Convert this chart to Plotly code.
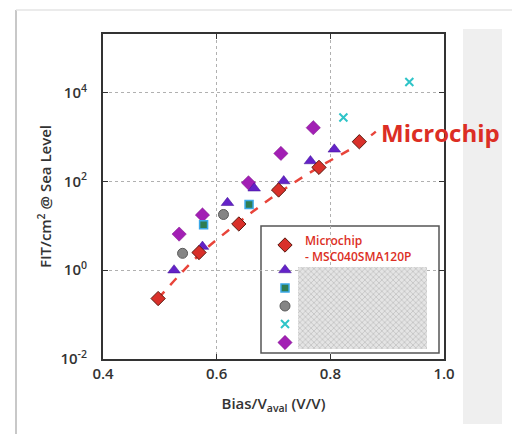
import plotly.graph_objects as go

W, H = 512, 434

# ---- data ----
mc_x = [0.497, 0.569, 0.639, 0.709, 0.780, 0.851]
mc_y = [0.23, 2.5, 11, 64, 207, 783]
fit_x = [0.497, 0.569, 0.639, 0.709, 0.780, 0.851, 0.880]
fit_y = [0.23, 2.2, 12, 55, 210, 700, 1320]
tri_x = [0.525, 0.575, 0.619, 0.666, 0.718, 0.765, 0.807]
tri_y = [1.0, 3.4, 33, 70, 102, 288, 528]
sq_x = [0.577, 0.657]
sq_y = [10.5, 30]
circ_x = [0.540, 0.612]
circ_y = [2.4, 18]
cross_x = [0.823, 0.939]
cross_y = [2750, 17400]
mag_x = [0.534, 0.575, 0.656, 0.713, 0.770]
mag_y = [6.5, 17.5, 93, 427, 1620]

x_ticks = [0.4, 0.6, 0.8, 1.0]
x_ticktext = ["0.4", "0.6", "0.8", "1.0"]
y_ticks = [0.01, 1, 100, 10000]
y_ticktext = ["10<sup>-2</sup>", "10<sup>0</sup>", "10<sup>2</sup>", "10<sup>4</sup>"]

RED = "#dc2e24"
FONT = "Open Sans"

# plot frame in pixels
L, R, T, B = 103, 444, 34, 359

M_RED = dict(symbol="diamond", size=11, color="#d9302a", line=dict(color="#5a1a10", width=1))
M_TRI = dict(symbol="triangle-up", size=11, color="#6422c8", line=dict(color="#3e1090", width=0.5))
M_SQ = dict(symbol="square", size=8, color="#2e7d52", line=dict(color="#3aa8e8", width=1.5))
M_CIRC = dict(symbol="circle", size=10, color="#858585", line=dict(color="#5a5a5a", width=1))
M_X = dict(symbol="x-thin", size=8, color="#2ec4c8", line=dict(color="#2ec4c8", width=2))
M_MAG = dict(symbol="diamond", size=11, color="#a21fb4", line=dict(color="#7a1088", width=0.5))

fig = go.Figure()

fig.add_trace(go.Scatter(x=fit_x, y=fit_y, mode="lines",
                         line=dict(color="#e8443a", width=2.5, dash="dash", shape="spline"),
                         showlegend=False))
fig.add_trace(go.Scatter(x=mag_x, y=mag_y, mode="markers", marker=M_MAG, showlegend=False))
fig.add_trace(go.Scatter(x=sq_x, y=sq_y, mode="markers", marker=M_SQ, showlegend=False))
fig.add_trace(go.Scatter(x=circ_x, y=circ_y, mode="markers", marker=M_CIRC, showlegend=False))
fig.add_trace(go.Scatter(x=tri_x, y=tri_y, mode="markers", marker=M_TRI, showlegend=False))
fig.add_trace(go.Scatter(x=cross_x, y=cross_y, mode="markers", marker=M_X, showlegend=False))
fig.add_trace(go.Scatter(x=mc_x, y=mc_y, mode="markers", marker=M_RED, showlegend=False))

# ---- manual legend on a pixel overlay axis ----
leg_items = [M_RED, M_TRI, M_SQ, M_CIRC, M_X, M_MAG]
leg_y = [245, 270, 288, 306, 324, 342.5]
# hatched placeholder
fig.add_trace(go.Scatter(x=[298, 427, 427, 298, 298], y=[267, 267, 349, 349, 267],
                         mode="lines", fill="toself", line=dict(width=0),
                         fillcolor="#d8d8d8",
                         fillpattern=dict(shape="x", fgcolor="#a8a8a8", bgcolor="#e4e4e4",
                                          size=4, solidity=0.4),
                         xaxis="x2", yaxis="y2", showlegend=False, hoverinfo="skip"))
for m, yy in zip(leg_items, leg_y):
    fig.add_trace(go.Scatter(x=[285], y=[yy], mode="markers", marker=m,
                             xaxis="x2", yaxis="y2", showlegend=False, hoverinfo="skip"))

shapes = [
    # page frame shadow lines
    dict(type="line", xref="paper", yref="paper", x0=16 / W, x1=16 / W, y0=0, y1=1 - 10 / H,
         line=dict(color="#c8c8c8", width=2)),
    dict(type="line", xref="paper", yref="paper", x0=16 / W, x1=1, y0=1 - 10 / H, y1=1 - 10 / H,
         line=dict(color="#e4e4e4", width=1.5)),
    # right grey panel
    dict(type="rect", xref="paper", yref="paper", x0=463 / W, x1=502 / W, y0=1 - 424 / H, y1=1 - 29 / H,
         fillcolor="#efefef", line=dict(width=0), layer="below"),
    # legend box
    dict(type="rect", xref="paper", yref="paper", x0=261 / W, x1=439 / W, y0=1 - 353 / H, y1=1 - 226 / H,
         fillcolor="white", line=dict(color="#555555", width=1.5), layer="below"),
]

annotations = [
    dict(text="Microchip", x=440 / W, y=1 - 132 / H, xref="paper", yref="paper",
         showarrow=False, font=dict(family=FONT, size=24, color=RED, weight=700),
         xanchor="center", yanchor="middle"),
    dict(text="Microchip", x=303 / W, y=1 - 240 / H, xref="paper", yref="paper",
         showarrow=False, font=dict(family=FONT, size=12, color=RED, weight=600),
         xanchor="left", yanchor="middle"),
    dict(text="- MSC040SMA120P", x=303 / W, y=1 - 256 / H, xref="paper", yref="paper",
         showarrow=False, font=dict(family=FONT, size=12, color=RED, weight=600),
         xanchor="left", yanchor="middle"),
]

axis_font = dict(family=FONT, size=15, color="#333333", weight=600)

fig.update_layout(
    width=W, height=H, autosize=False,
    margin=dict(l=0, r=0, t=0, b=0, pad=0, autoexpand=False),
    paper_bgcolor="white", plot_bgcolor="rgba(0,0,0,0)",
    shapes=shapes, annotations=annotations,
    xaxis=dict(domain=[L / W, R / W], range=[0.4, 1.0], tickvals=x_ticks, ticktext=x_ticktext,
               tickfont=axis_font, ticks="inside", ticklen=5, tickcolor="#333",
               showline=True, linecolor="#333333", linewidth=2, mirror="ticks",
               showgrid=True, gridcolor="#b0b0b0", griddash="dot", gridwidth=1.2,
               zeroline=False, automargin=False,
               title=dict(text="Bias/V<sub>aval</sub> (V/V)", font=dict(family=FONT, size=15, color="#333", weight=600),
                          standoff=16)),
    yaxis=dict(domain=[1 - B / H, 1 - T / H], type="log", range=[-2, 5.32],
               tickvals=y_ticks, ticktext=y_ticktext,
               tickfont=axis_font, ticks="inside", ticklen=5, tickcolor="#333",
               showline=True, linecolor="#333333", linewidth=2, mirror="ticks",
               showgrid=True, gridcolor="#b0b0b0", griddash="dot", gridwidth=1.2,
               zeroline=False, ticklabelstandoff=11, automargin=False,
               title=dict(text="FIT/cm<sup>2</sup> @ Sea Level", font=dict(family=FONT, size=15, color="#333", weight=600),
                          standoff=5)),
    xaxis2=dict(domain=[0, 1], range=[0, W], anchor="y2", visible=False, fixedrange=True, automargin=False),
    yaxis2=dict(domain=[0, 1], range=[H, 0], anchor="x2", visible=False, fixedrange=True, automargin=False),
)

fig.write_html("out.html")
